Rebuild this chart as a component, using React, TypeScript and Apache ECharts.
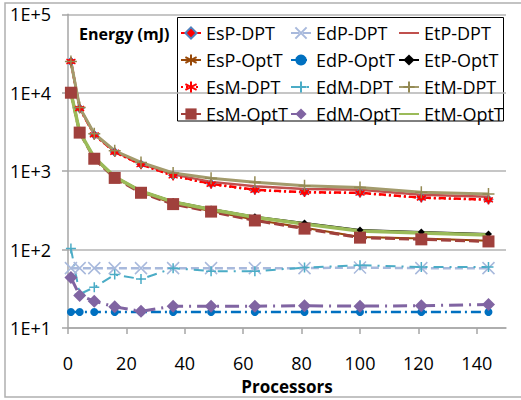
import React, { useEffect, useRef } from "react";
import * as echarts from "echarts";

const processors = [1, 4, 9, 16, 25, 36, 49, 64, 81, 100, 121, 144];
const xTicks = [0, 20, 40, 60, 80, 100, 120, 140];
const yTicks = [10, 100, 1000, 10000, 100000];

const seriesNames = [
  "EsP-DPT", "EdP-DPT", "EtP-DPT",
  "EsP-OptT", "EdP-OptT", "EtP-OptT",
  "EsM-DPT", "EdM-DPT", "EtM-DPT",
  "EsM-OptT", "EdM-OptT", "EtM-OptT",
];

const esPDPT = [25000, 6300, 2900, 1750, 1220, 880, 690, 580, 540, 530, 460, 435];
const edPDPT = [58, 58, 58, 58, 58, 58, 58, 58, 58, 59, 58, 58];
const etPDPT = [25000, 6400, 2950, 1780, 1250, 910, 730, 640, 590, 580, 500, 470];
const esPOptT = [10000, 3100, 1450, 830, 540, 385, 310, 240, 190, 145, 138, 130];
const edPOptT = [16, 16, 16, 16, 16, 16, 16, 16, 16, 16, 16, 16];
const etPOptT = [10000, 3150, 1500, 850, 560, 410, 330, 262, 218, 178, 168, 158];
const esMDPT = [25000, 6300, 2900, 1740, 1210, 870, 680, 570, 535, 525, 455, 430];
const edMDPT = [103, 27, 33, 48, 42, 58, 53, 53, 59, 63, 60, 60];
const etMDPT = [25000, 6500, 3000, 1820, 1290, 950, 810, 720, 650, 620, 540, 510];
const esMOptT = [10000, 3100, 1440, 820, 530, 380, 305, 235, 185, 142, 135, 127];
const edMOptT = [44, 26, 22, 18.6, 16.3, 19, 19, 19, 19.2, 19, 19.2, 20];
const etMOptT = [10000, 3150, 1490, 850, 555, 405, 325, 258, 212, 172, 163, 153];

const FONT = "'Open Sans', sans-serif";
const ASTERISK = "path://M5,0L5,10M0.7,2.5L9.3,7.5M0.7,7.5L9.3,2.5";
const XMARK = "path://M0,0L10,10M0,10L10,0";
const PLUS = "path://M5,0L5,10M0,5L10,5";

function pts(vals: number[]) {
  return processors.map((p, i) => [p, vals[i]]);
}

type Spec = {
  data: number[];
  color: string;
  width: number;
  dash: any;
  symbol: string | null;
  size: number;
  fill?: string;
  border?: string;
  borderWidth?: number;
};

const specs: Spec[] = [
  { data: esPDPT, color: "#ff0000", width: 2.5, dash: [7, 3, 2, 3], symbol: "diamond", size: 9, fill: "#ff0000", border: "#4f81bd", borderWidth: 1 },
  { data: edPDPT, color: "#a8b9dc", width: 2.5, dash: [8, 4], symbol: XMARK, size: 12, fill: "none", border: "#a8b9dc", borderWidth: 1.5 },
  { data: etPDPT, color: "#c0504d", width: 2.5, dash: "solid", symbol: null, size: 0 },
  { data: esPOptT, color: "#984807", width: 2, dash: "solid", symbol: ASTERISK, size: 10, fill: "none", border: "#984807", borderWidth: 1.5 },
  { data: edPOptT, color: "#0070c0", width: 2.5, dash: [10, 4, 2, 4], symbol: "circle", size: 8, fill: "#0070c0" },
  { data: etPOptT, color: "#000000", width: 2, dash: "solid", symbol: "diamond", size: 7, fill: "#000000" },
  { data: esMDPT, color: "#ff0000", width: 2, dash: [2, 3], symbol: ASTERISK, size: 9, fill: "none", border: "#ff0000", borderWidth: 1.5 },
  { data: edMDPT, color: "#4bacc6", width: 2, dash: [10, 6, 2, 6], symbol: PLUS, size: 10, fill: "none", border: "#4bacc6", borderWidth: 1.5 },
  { data: etMDPT, color: "#a39b6c", width: 3, dash: "solid", symbol: PLUS, size: 12, fill: "none", border: "#948a54", borderWidth: 1.5 },
  { data: esMOptT, color: "#a0403c", width: 3, dash: [10, 4], symbol: "rect", size: 12, fill: "#a0403c" },
  { data: edMOptT, color: "#8064a2", width: 3, dash: [14, 6, 2, 6], symbol: "diamond", size: 13, fill: "#8064a2" },
  { data: etMOptT, color: "#9bbb59", width: 3.5, dash: "solid", symbol: null, size: 0 },
];

export default function App() {
  const ref = useRef<HTMLDivElement>(null);
  useEffect(() => {
    document.body.style.margin = "0";
    const chart = echarts.init(ref.current!, null, { renderer: "svg" });
    const series = specs.map((s, i) => {
      const noSym = s.symbol === null;
      return {
        name: seriesNames[i],
        type: "line",
        data: pts(s.data),
        symbol: noSym ? "circle" : s.symbol,
        symbolSize: noSym ? 1 : s.size,
        showSymbol: !noSym,
        lineStyle: { color: s.color, width: s.width, type: s.dash },
        itemStyle: noSym
          ? { color: "rgba(0,0,0,0)", borderColor: "rgba(0,0,0,0)", borderWidth: 0 }
          : {
              color: s.fill ?? s.color,
              borderColor: s.border ?? s.color,
              borderWidth: s.borderWidth ?? 0,
            },
        emphasis: { disabled: true },
      };
    });
    const legendBase = {
      orient: "vertical",
      top: 19,
      itemGap: 9,
      itemWidth: 20,
      itemHeight: 14,
      textStyle: { fontFamily: FONT, fontSize: 18, color: "#000" },
      selectedMode: false,
    };
    chart.setOption({
      animation: false,
      grid: { left: 68, right: 15, top: 14.3, bottom: 65.7, containLabel: false },
      title: {
        text: "Energy (mJ)",
        left: 74,
        top: 21,
        textStyle: { fontFamily: FONT, fontSize: 16, fontWeight: "bold", color: "#000" },
      },
      legend: [
        { ...legendBase, left: 175, data: [seriesNames[0], seriesNames[3], seriesNames[6], seriesNames[9]] },
        { ...legendBase, left: 285, data: [seriesNames[1], seriesNames[4], seriesNames[7], seriesNames[10]] },
        { ...legendBase, left: 393, data: [seriesNames[2], seriesNames[5], seriesNames[8], seriesNames[11]] },
      ],
      xAxis: {
        type: "value",
        min: 0,
        max: 150,
        interval: 20,
        name: "Processors",
        nameLocation: "middle",
        nameGap: 50,
        nameTextStyle: { fontFamily: FONT, fontSize: 17, fontWeight: "bold", color: "#000" },
        axisLine: { lineStyle: { color: "#a6a6a6", width: 1.5 } },
        axisTick: { show: true, length: 6, lineStyle: { color: "#a6a6a6", width: 1.5 }, customValues: xTicks },
        axisLabel: { fontFamily: FONT, fontSize: 18, color: "#000", margin: 26, customValues: xTicks },
        splitLine: { show: false },
      },
      yAxis: {
        type: "log",
        logBase: 10,
        min: yTicks[0],
        max: yTicks[yTicks.length - 1],
        axisLine: { show: true, lineStyle: { color: "#a6a6a6", width: 1.5 } },
        axisTick: { show: true, length: 6, lineStyle: { color: "#a6a6a6", width: 1.5 } },
        axisLabel: {
          fontFamily: FONT,
          fontSize: 18,
          color: "#000",
          margin: 17,
          formatter: (v: number) => "1E+" + Math.round(Math.log10(v)),
        },
        splitLine: { show: true, lineStyle: { color: "#b3b3b3", width: 1.5 } },
        minorTick: { show: false },
      },
      graphic: [
        {
          type: "rect",
          shape: { x: 5, y: 3, width: 530, height: 394 },
          style: { fill: "none", stroke: "#b0b0b0", lineWidth: 1.5 },
          silent: true,
          z: -10,
        },
        {
          type: "rect",
          shape: { x: 177.5, y: 17.5, width: 326, height: 103.5 },
          style: { fill: "#ffffff", stroke: "#000000", lineWidth: 1 },
          silent: true,
          z: 0,
        },
      ],
      series,
    });
    return () => chart.dispose();
  }, []);
  return <div ref={ref} style={{ width: 521, height: 400 }} />;
}
